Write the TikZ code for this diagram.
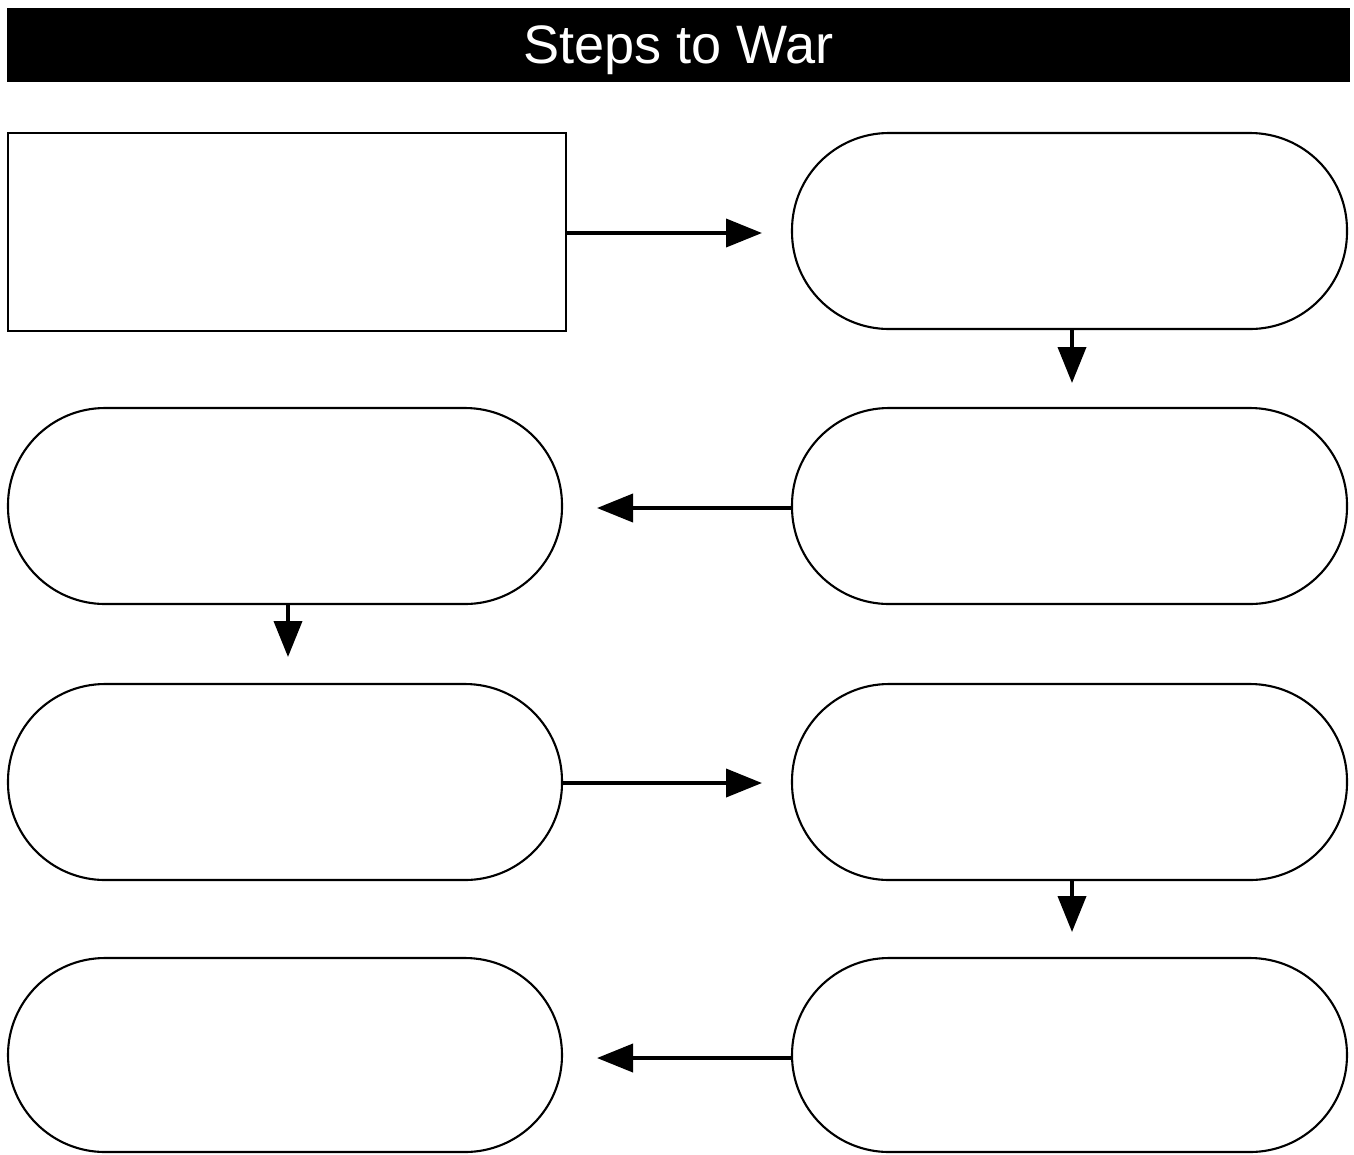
\documentclass[tikz,border=0pt]{standalone}
\usepackage{fontspec}
\setmainfont{Liberation Sans}
\usetikzlibrary{arrows.meta}

\tikzset{
  pill/.style={draw, line width=0.6pt, rounded corners=0.97cm, minimum width=5.55cm, minimum height=1.96cm, inner sep=0pt},
  stepline/.style={line width=1.1pt, -{Triangle[length=0.36cm,width=0.28cm]}}
}

\begin{document}
\begin{tikzpicture}
\useasboundingbox (0,0) rectangle (13.54,-11.54);

\node (title) at (6.785,-0.45) [fill=black, text=white, minimum width=13.43cm, minimum height=0.74cm, inner sep=0pt, text depth=0pt, font=\fontsize{15.4}{18}\selectfont] {Steps to War};

\node (A) at (2.87,-2.32) [draw, line width=0.6pt, minimum width=5.58cm, minimum height=1.98cm] {};
\node (B) at (10.695,-2.31) [pill] {};
\node (C) at (10.695,-5.06) [pill] {};
\node (D) at (2.85,-5.06) [pill, minimum width=5.54cm] {};
\node (E) at (2.85,-7.82) [pill, minimum width=5.54cm] {};
\node (F) at (10.695,-7.82) [pill] {};
\node (G) at (10.695,-10.55) [pill, minimum height=1.94cm] {};
\node (H) at (2.85,-10.55) [pill, minimum width=5.54cm, minimum height=1.94cm] {};

\coordinate (AB) at (7.62,-2.33);
\coordinate (BC) at (10.72,-3.83);
\coordinate (CD) at (5.97,-5.08);
\coordinate (DE) at (2.88,-6.57);
\coordinate (EF) at (7.62,-7.83);
\coordinate (FG) at (10.72,-9.32);
\coordinate (GH) at (5.97,-10.58);

\draw[stepline] (A.east |- AB) to (AB);
\draw[stepline] (B.south -| BC) to (BC);
\draw[stepline] (C.west |- CD) to (CD);
\draw[stepline] (D.south -| DE) to (DE);
\draw[stepline] (E.east |- EF) to (EF);
\draw[stepline] (F.south -| FG) to (FG);
\draw[stepline] (G.west |- GH) to (GH);
\end{tikzpicture}
\end{document}
